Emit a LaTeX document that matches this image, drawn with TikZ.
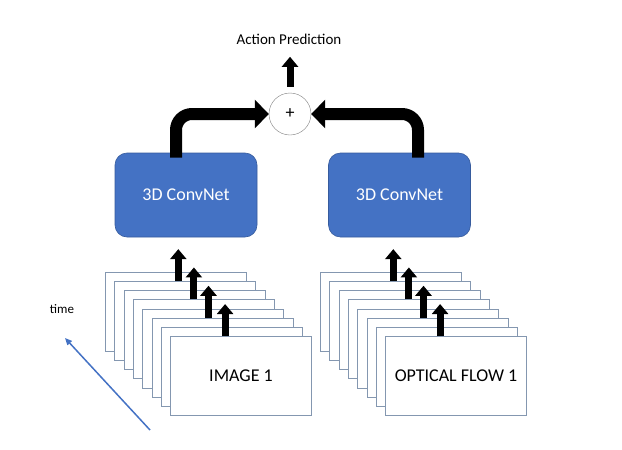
\documentclass[tikz,border=0pt]{standalone}
\usepackage{fontspec}
\setmainfont{Carlito}
\usetikzlibrary{arrows.meta,positioning}
\definecolor{netblue}{HTML}{4472C4}
\definecolor{framecol}{HTML}{8497B0}

\begin{document}
\begin{tikzpicture}[x=1pt,y=-1pt,
  frame/.style={draw=framecol,fill=white,line width=0.8pt,minimum width=141pt,minimum height=79pt,anchor=north west,inner sep=0pt},
  convnet/.style={fill=netblue,draw=netblue!80!black,line width=0.6pt,rounded corners=12pt,minimum width=142pt,minimum height=84pt,text=white,font=\fontsize{18}{20}\selectfont},
  smallarrow/.style={line width=7pt,-{Triangle[length=10pt,width=16pt]}},
  bigarrow/.style={line width=12pt,rounded corners=16pt,-{Triangle[length=14pt,width=28pt]}}]
\useasboundingbox (0,0) rectangle (622,450);
\tikzstyle{every node}+=[font=\fontsize{18}{20}\selectfont]
% stacks of frames
\foreach \i in {0,...,7} {
  \node [frame] (img\i) at (105+9.3*\i,272+9.15*\i) {};
  \node [frame] (flow\i) at (320+9.3*\i,272+9.15*\i) {};
}
\node at (img7.center) {IMAGE 1};
\node at (flow7.center) {OPTICAL FLOW 1};
% frames into the nets
\draw [smallarrow] ([xshift=64pt]img1.north west) -- ++(0,-32);
\draw [smallarrow] ([xshift=61pt]img3.north west) -- ++(0,-32);
\draw [smallarrow] ([xshift=57pt]img5.north west) -- ++(0,-32);
\draw [smallarrow] ([xshift=55pt]img7.north west) -- ++(0,-32);
\draw [smallarrow] ([xshift=64pt]flow1.north west) -- ++(0,-32);
\draw [smallarrow] ([xshift=61pt]flow3.north west) -- ++(0,-32);
\draw [smallarrow] ([xshift=57pt]flow5.north west) -- ++(0,-32);
\draw [smallarrow] ([xshift=55pt]flow7.north west) -- ++(0,-32);
% nets and fusion
\node [convnet] (convL) at (186,195) {3D ConvNet};
\node [convnet] (convR) at (399.5,195) {3D ConvNet};
\node [draw=gray,circle,minimum size=42pt,inner sep=0pt] (sum) at (290,114) {+};
\node [font=\fontsize{15}{17}\selectfont] (pred) at (289,39) {Action Prediction};
\draw [bigarrow] ([xshift=-10pt,yshift=-5pt]convL.north) |- (sum.west);
\draw [bigarrow] ([xshift=18.5pt,yshift=-5pt]convR.north) |- (sum.east);
\draw [smallarrow,shorten <=6pt] (sum.north) -- ++(0,-36);
% time axis
\coordinate (tstart) at (150,430);
\coordinate (tend) at (65,338);
\draw [netblue,line width=1.5pt,-{Triangle[length=7pt,width=6pt]}] (tstart) -- (tend);
\node [font=\fontsize{13}{15}\selectfont] (time) at (62,309) {time};
\end{tikzpicture}
\end{document}
